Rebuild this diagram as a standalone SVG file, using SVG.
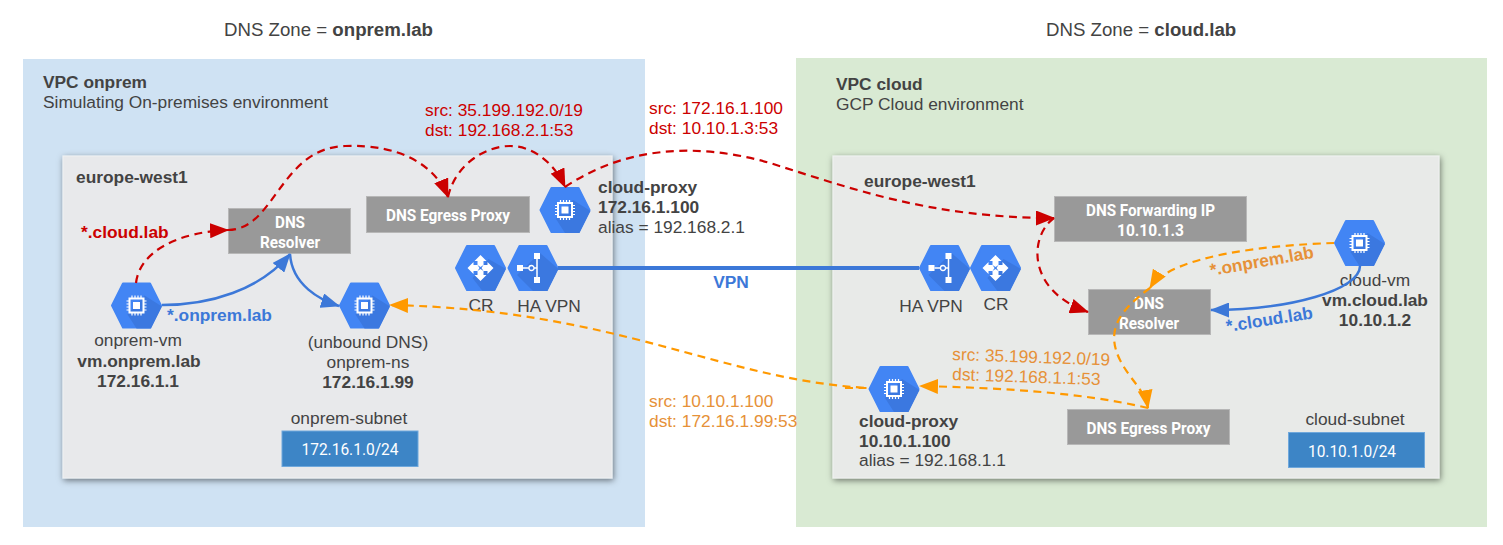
<svg xmlns="http://www.w3.org/2000/svg" xmlns:xlink="http://www.w3.org/1999/xlink" width="1503" height="545" viewBox="0 0 1503 545">
<style>
text{font-family:"Liberation Sans",Arial,sans-serif;font-size:17.33px;fill:#434343}
.b{font-weight:bold}
.m{text-anchor:middle}
.z{font-size:18.67px}
.red{fill:#cc0000}
.org{fill:#e69138}
.blu{fill:#3c78d8}
.box{fill:#999999;stroke:#b7b7b7;stroke-width:1}
.lbl{font-family:Roboto,"Liberation Sans",sans-serif;font-weight:bold;font-size:16px;fill:#fff;text-anchor:middle}
.sub{fill:#3d85c6;stroke:#6fa8dc;stroke-width:1}
.sublbl{font-family:Roboto,"Liberation Sans",sans-serif;font-size:16px;fill:#fff;text-anchor:middle}
.inner{stroke:#f0f1f2;stroke-width:1;filter:url(#sh)}
.c{fill:none}
.cr{stroke:#cc0000;stroke-width:2.2;stroke-dasharray:8 5.500;marker-end:url(#ar)}
.co{stroke:#ff9900;stroke-width:2.2;stroke-dasharray:8 5.500;marker-end:url(#ao)}
.cb{stroke:#3c78d8;stroke-width:2.5;marker-end:url(#ab)}
</style>
<defs>
<filter id="sh" x="-5%" y="-5%" width="110%" height="110%"><feDropShadow dx="1" dy="2" stdDeviation="3" flood-color="#000" flood-opacity="0.5"/></filter>
<marker id="ar" viewBox="0 0 19 15" refX="18" refY="7.500" markerWidth="19" markerHeight="15" markerUnits="userSpaceOnUse" orient="auto"><path d="M0 0L19 7.500L0 15Z" fill="#cc0000"/></marker>
<marker id="ao" viewBox="0 0 19 15" refX="18" refY="7.500" markerWidth="19" markerHeight="15" markerUnits="userSpaceOnUse" orient="auto"><path d="M0 0L19 7.500L0 15Z" fill="#ff9900"/></marker>
<marker id="ab" viewBox="0 0 19 15" refX="18" refY="7.500" markerWidth="19" markerHeight="15" markerUnits="userSpaceOnUse" orient="auto"><path d="M0 0L19 7.500L0 15Z" fill="#3c78d8"/></marker>
<g id="hex">
<path d="M-24.500 0L-13.500 -22H13.500L24.500 0L13.500 22H-13.500Z" fill="#4285f4" stroke="#4285f4" stroke-width="2" stroke-linejoin="round"/>
</g>
<g id="vm">
<use href="#hex"/>
<path d="M8 -10L25.500 1L14.500 23H0L-9 9Z" fill="#3b78e0"/>
<rect x="-7" y="-7" width="14" height="14" fill="none" stroke="#fff" stroke-width="2"/>
<rect x="-3.500" y="-3.500" width="7" height="7" fill="#fff"/>
<path d="M-4.500 -10V-7M-1.500 -10V-7M1.500 -10V-7M4.500 -10V-7M-4.500 7V10M-1.500 7V10M1.500 7V10M4.500 7V10M-10 -4.500H-7M-10 -1.500H-7M-10 1.500H-7M-10 4.500H-7M7 -4.500H10M7 -1.500H10M7 1.500H10M7 4.500H10" stroke="#fff" stroke-width="1.200"/>
</g>
<g id="cr">
<use href="#hex"/>
<path d="M8 -9L25.500 1L14.500 23H2L-8 10Z" fill="#3b78e0"/>
<path d="M0 -13L6 -7H3V-3L0 -1L-3 -3V-7H-6ZM0 13L6 7H3V3L0 1L-3 3V7H-6ZM-13 0L-7 -6V-3H-3L-1 0L-3 3H-7V6ZM13 0L7 -6V-3H3L1 0L3 3H7V6Z" fill="#fff"/>
</g>
<g id="vpn">
<use href="#hex"/>
<path d="M7 -15L25.500 1L14.500 23H0L-16 7Z" fill="#3b78e0"/>
<rect x="-16" y="-3" width="6" height="6" fill="#fff"/>
<rect x="1" y="-15" width="6" height="6" fill="#fff"/>
<rect x="1" y="9" width="6" height="6" fill="#fff"/>
<path d="M-10 0H-4M1 0H4M4 -9V9" stroke="#fff" stroke-width="1.500" fill="none"/>
<circle cx="-1.500" cy="0" r="2.500" fill="none" stroke="#fff" stroke-width="1.300"/>
</g>
</defs>
<rect width="1503" height="545" fill="#fff"/>

<g id="zone-onprem">
<rect x="23" y="59" width="622" height="468" fill="#cfe2f3"/>
<text class="z" x="224" y="36">DNS Zone = <tspan class="b">onprem.lab</tspan></text>
<text class="b" x="43" y="88">VPC onprem</text>
<text x="43" y="108">Simulating On-premises environment</text>
</g>
<g id="zone-cloud">
<rect x="796" y="58" width="691" height="469" fill="#d9ead3"/>
<text class="z" x="1046" y="36">DNS Zone = <tspan class="b">cloud.lab</tspan></text>
<text class="b" x="836" y="90">VPC cloud</text>
<text x="836" y="110">GCP Cloud environment</text>
</g>
<g id="region-onprem">
<rect class="inner" fill="#e8e9eb" x="63" y="156" width="549" height="322"/>
<text class="b" x="76" y="183">europe-west1</text>
</g>
<g id="region-cloud">
<rect class="inner" fill="#e8eae8" x="833" y="156" width="606" height="322"/>
<text class="b" x="864" y="187">europe-west1</text>
</g>

<g id="resolver-onprem"><rect class="box" x="228.500" y="208.500" width="122" height="45"/>
<text class="lbl" x="290" y="228" textLength="30" lengthAdjust="spacingAndGlyphs">DNS</text>
<text class="lbl" x="290" y="248" textLength="60" lengthAdjust="spacingAndGlyphs">Resolver</text></g>
<g id="egress-onprem"><rect class="box" x="366.500" y="196.500" width="163" height="36"/>
<text class="lbl" x="448" y="221" textLength="124" lengthAdjust="spacingAndGlyphs">DNS Egress Proxy</text></g>
<g id="forwarding-cloud"><rect class="box" x="1054.500" y="196.500" width="192" height="45"/>
<text class="lbl" x="1150.500" y="216" textLength="129" lengthAdjust="spacingAndGlyphs">DNS Forwarding IP</text>
<text class="lbl" x="1150.500" y="236" textLength="67" lengthAdjust="spacingAndGlyphs">10.10.1.3</text></g>
<g id="resolver-cloud"><rect class="box" x="1088.500" y="289.500" width="122" height="45"/>
<text class="lbl" x="1149" y="309" textLength="30" lengthAdjust="spacingAndGlyphs">DNS</text>
<text class="lbl" x="1149" y="329" textLength="60" lengthAdjust="spacingAndGlyphs">Resolver</text></g>
<g id="egress-cloud"><rect class="box" x="1067.500" y="409.500" width="162" height="35"/>
<text class="lbl" x="1148.500" y="434" textLength="124" lengthAdjust="spacingAndGlyphs">DNS Egress Proxy</text></g>
<g id="subnet-onprem"><text class="m" x="349" y="424">onprem-subnet</text>
<rect class="sub" x="282" y="431" width="136" height="35.500"/>
<text class="sublbl" x="350" y="455" textLength="97" lengthAdjust="spacingAndGlyphs">172.16.1.0/24</text></g>
<g id="subnet-cloud"><text class="m" x="1355" y="425">cloud-subnet</text>
<rect class="sub" x="1288.500" y="432.500" width="136" height="35"/>
<text class="sublbl" x="1352" y="457" textLength="88" lengthAdjust="spacingAndGlyphs">10.10.1.0/24</text></g>

<g id="onprem-vm"><use href="#vm" x="136.500" y="305.500"/>
<text class="m" x="138" y="346">onprem-vm</text>
<text class="m b" x="139" y="367">vm.onprem.lab</text>
<text class="m b" x="138" y="387">172.16.1.1</text></g>
<g id="onprem-ns"><use href="#vm" x="364.500" y="305.500"/>
<text class="m" x="368" y="348">(unbound DNS)</text>
<text class="m" x="368" y="368">onprem-ns</text>
<text class="m b" x="368" y="388">172.16.1.99</text></g>
<g id="cloud-proxy-onprem"><use href="#vm" x="565" y="210"/>
<text class="b" x="598" y="193">cloud-proxy</text>
<text class="b" x="598" y="213">172.16.1.100</text>
<text x="598" y="233">alias = 192.168.2.1</text></g>
<g id="cr-onprem"><use href="#cr" x="480.500" y="268"/><text class="m" x="481" y="311">CR</text></g>
<g id="vpn-onprem"><use href="#vpn" x="533" y="268"/><text class="m" x="549" y="312">HA VPN</text></g>
<g id="vpn-cloud"><use href="#vpn" x="944.500" y="268"/><text class="m" x="931" y="312">HA VPN</text></g>
<g id="cr-cloud"><use href="#cr" x="995.500" y="268"/><text class="m" x="996" y="310">CR</text></g>
<g id="cloud-vm"><use href="#vm" x="1359.500" y="243"/>
<text class="m" x="1375" y="286">cloud-vm</text>
<text class="m b" x="1375" y="306">vm.cloud.lab</text>
<text class="m b" x="1375" y="326">10.10.1.2</text></g>
<g id="cloud-proxy-cloud"><use href="#vm" x="894" y="389"/>
<text class="b" x="859" y="427">cloud-proxy</text>
<text class="b" x="859" y="447">10.10.1.100</text>
<text x="859" y="466">alias = 192.168.1.1</text></g>

<g id="connectors">
<path class="c" d="M558 268H919" stroke="#3c78d8" stroke-width="4"/>
<path class="c cr" d="M136 283C140 250 180 232 228 230"/>
<path class="c cr" d="M228 230C275 230 280 148 345 146C400 144 435 165 448 197"/>
<path class="c cr" d="M448 197C455 165 485 146 510 146C535 146 555 165 565 187"/>
<path class="c cr" d="M565 187C620 150 690 140 770 163C850 188 930 218 1054 218"/>
<path class="c cr" d="M1054 218C1030 235 1025 290 1088 312"/>
<path class="c cb" d="M162 305C210 305 260 290 290 254"/>
<path class="c cb" d="M290 254C292 285 320 300 339 306"/>
<path class="c cb" d="M1360 266C1360 290 1290 310 1211 310"/>
<path class="c co" d="M1334 243C1270 245 1170 255 1150 288"/>
<path class="c co" d="M1150 288C1120 310 1105 330 1120 360C1130 380 1145 390 1148 408"/>
<path class="c co" d="M1148 408C1080 392 1000 388 920 386"/>
<path class="c co" d="M845 388H868C720 380 620 310 390 305"/>
</g>

<g id="labels">
<text class="b red" x="81" y="238">*.cloud.lab</text>
<text class="b blu" x="167" y="321">*.onprem.lab</text>
<text class="b blu m" x="731" y="288">VPN</text>
<text class="b org" transform="translate(1211 276) rotate(-10)">*.onprem.lab</text>
<text class="b blu" transform="translate(1227 332) rotate(-9)">*.cloud.lab</text>
<text class="red" x="425" y="116">src: 35.199.192.0/19</text>
<text class="red" x="425" y="136">dst: 192.168.2.1:53</text>
<text class="red" x="649" y="114">src: 172.16.1.100</text>
<text class="red" x="649" y="134">dst: 10.10.1.3:53</text>
<text class="org" transform="translate(952 360) rotate(2)">src: 35.199.192.0/19</text>
<text class="org" transform="translate(952 380) rotate(2)">dst: 192.168.1.1:53</text>
<text class="org" x="649" y="407">src: 10.10.1.100</text>
<text class="org" x="649" y="427">dst: 172.16.1.99:53</text>
</g>
</svg>
